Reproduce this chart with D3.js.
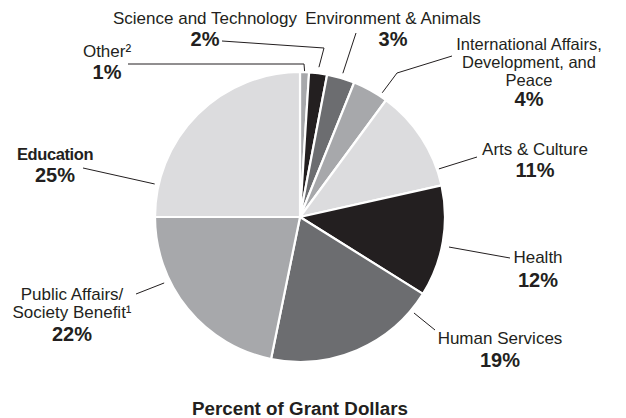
<!DOCTYPE html>
<html>
<head>
<meta charset="utf-8">
<script src="https://cdn.jsdelivr.net/npm/d3@7"></script>
<style>
  html, body { margin: 0; padding: 0; background: #fff; }
  svg { display: block; font-family: "Liberation Sans", Arial, sans-serif; }
</style>
</head>
<body>
<svg id="chart" width="626" height="418"></svg>
<script>
// ---- data ----
const categories = ["Other", "Science and Technology", "Environment & Animals",
  "International Affairs, Development, and Peace", "Arts & Culture", "Health",
  "Human Services", "Public Affairs/Society Benefit", "Education"];
const values = [1.0, 2.0, 3.1, 4.0, 11.4, 12.4, 19.3, 21.8, 25.0];
const labelLines = [
  ["Other\u00B2"],
  ["Science and Technology"],
  ["Environment & Animals"],
  ["International Affairs,", "Development, and", "Peace"],
  ["Arts & Culture"],
  ["Health"],
  ["Human Services"],
  ["Public Affairs/", "Society Benefit\u00B9"],
  ["Education"]
];
const shades = ["medium", "black", "dark", "medium", "light", "black", "dark", "medium", "light"];
const title = "Percent of Grant Dollars";

// ---- layout / style ----
const W = 626, H = 418;
const cx = 300, cy = 217, R = 145;
const shadeColor = { light: "#dcdcde", medium: "#a7a8ab", dark: "#6c6d70", black: "#231f20" };
const labelLayout = [
  { x: 107, y: 51, step: 18, pctY: 72, weight: 400, size: 17, ls: 0, ang: 1.8, r: 146, from: [128, 64], elbow: [[304, 64]] },
  { x: 205, y: 18, step: 18, pctY: 39, weight: 400, size: 17, ls: 0, ang: 7.2, r: 151, from: [222, 41], elbow: [[324, 48]] },
  { x: 393, y: 18, step: 18, pctY: 39, weight: 400, size: 17, ls: 0, ang: 16.6, r: 150, from: [356, 33], elbow: [] },
  { x: 529, y: 44, step: 18, pctY: 99, weight: 400, size: 16.5, ls: 0, ang: 33.5, r: 149, from: [452, 56], elbow: [[397, 73]] },
  { x: 535, y: 149, step: 18, pctY: 170, weight: 400, size: 17, ls: 0, ang: 70.9, r: 147, from: [477, 157], elbow: [] },
  { x: 538, y: 257, step: 18, pctY: 280, weight: 400, size: 17, ls: 0, ang: 101.4, r: 152, from: [510, 258], elbow: [] },
  { x: 500, y: 338, step: 18, pctY: 360, weight: 400, size: 17, ls: 0, ang: 130.1, r: 149, from: [435, 330], elbow: [] },
  { x: 72, y: 294, step: 18, pctY: 334, weight: 400, size: 17, ls: 0, ang: 244.1, r: 151, from: [136, 294], elbow: [] },
  { x: 55, y: 154, step: 18, pctY: 175, weight: 700, size: 16.5, ls: -0.4, ang: 282.8, r: 149, from: [83, 168], elbow: [] }
];

const svg = d3.select("#chart");
const data = categories.map((c, i) => ({ cat: c, value: values[i], shade: shades[i], lines: labelLines[i], lay: labelLayout[i] }));

const pie = d3.pie().value(d => d.value).sort(null).startAngle(0).endAngle(2 * Math.PI);
const arc = d3.arc().innerRadius(0).outerRadius(R);

const g = svg.append("g").attr("transform", `translate(${cx},${cy})`);
g.selectAll("path.slice")
  .data(pie(data))
  .join("path")
  .attr("class", "slice")
  .attr("d", arc)
  .attr("fill", d => shadeColor[d.data.shade])
  .attr("stroke", "#fff")
  .attr("stroke-width", 2.2)
  .attr("stroke-linejoin", "round");

// leader lines
const line = d3.line();
data.forEach(d => {
  const L = d.lay;
  const a = L.ang * Math.PI / 180;
  const anchor = [cx + L.r * Math.sin(a), cy - L.r * Math.cos(a)];
  const pts = [L.from, ...L.elbow, anchor];
  svg.append("path")
    .attr("d", line(pts))
    .attr("fill", "none")
    .attr("stroke", "#231f20")
    .attr("stroke-width", 1);
});

// labels
const fmt = v => Math.round(v) + "%";
data.forEach(d => {
  const L = d.lay;
  d.lines.forEach((t, j) => {
    svg.append("text")
      .attr("x", L.x)
      .attr("y", L.y + j * L.step)
      .attr("dy", "0.35em")
      .attr("text-anchor", "middle")
      .attr("font-size", L.size)
      .attr("font-weight", L.weight)
      .attr("letter-spacing", L.ls)
      .attr("fill", "#231f20")
      .text(t);
  });
  svg.append("text")
    .attr("x", L.x)
    .attr("y", L.pctY)
    .attr("dy", "0.35em")
    .attr("text-anchor", "middle")
    .attr("font-size", 20)
    .attr("font-weight", 700)
    .attr("fill", "#231f20")
    .text(fmt(d.value));
});

svg.append("text")
  .attr("x", 300)
  .attr("y", 408)
  .attr("dy", "0.35em")
  .attr("text-anchor", "middle")
  .attr("font-size", 18.8)
  .attr("font-weight", 700)
  .attr("fill", "#231f20")
  .text(title);
</script>
</body>
</html>
